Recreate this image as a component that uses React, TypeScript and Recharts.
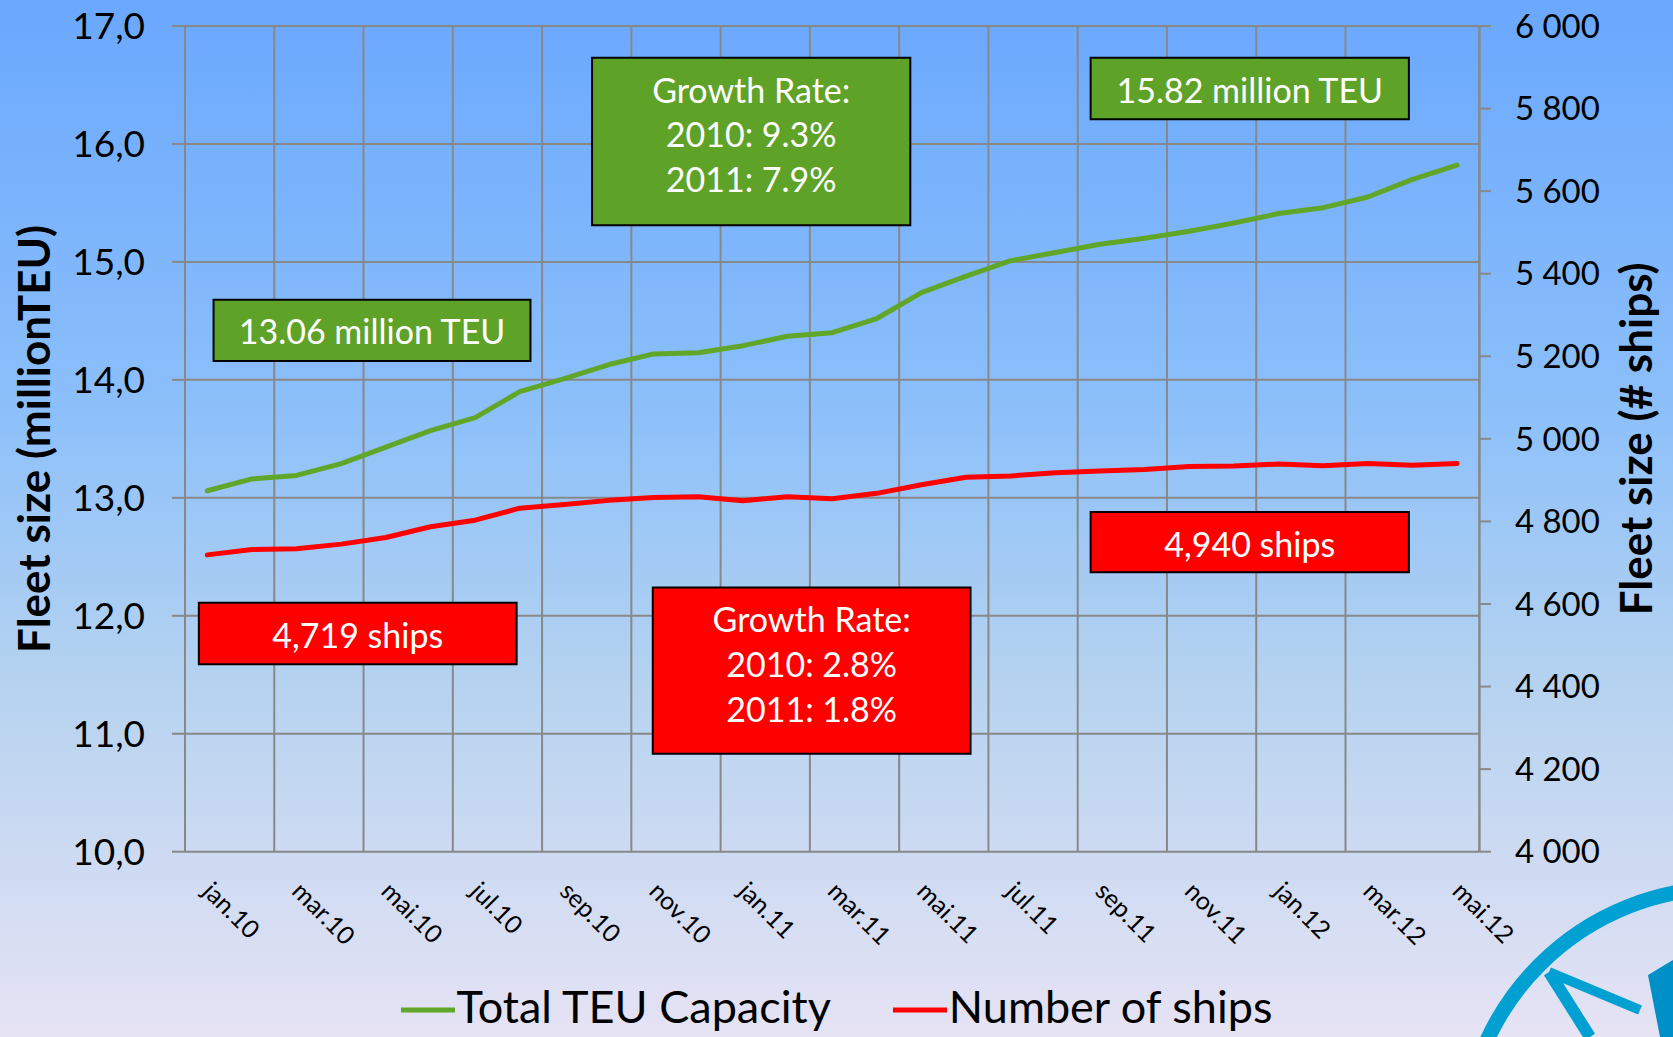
import React from 'react';
import { LineChart, Line, XAxis, YAxis, CartesianGrid, ReferenceArea, Legend } from 'recharts';

const months = [
  'jan.10', 'feb.10', 'mar.10', 'apr.10', 'mai.10', 'jun.10', 'jul.10', 'aug.10', 'sep.10', 'okt.10', 'nov.10', 'des.10',
  'jan.11', 'feb.11', 'mar.11', 'apr.11', 'mai.11', 'jun.11', 'jul.11', 'aug.11', 'sep.11', 'okt.11', 'nov.11', 'des.11',
  'jan.12', 'feb.12', 'mar.12', 'apr.12', 'mai.12',
];

const teuCapacity = [
  13.06, 13.16, 13.19, 13.29, 13.43, 13.57, 13.68, 13.9, 14.01, 14.13,
  14.22, 14.23, 14.29, 14.37, 14.4, 14.52, 14.74, 14.88, 15.01, 15.08,
  15.15, 15.2, 15.26, 15.33, 15.41, 15.46, 15.55, 15.7, 15.82,
];

const shipCount = [
  4719, 4732, 4734, 4745, 4761, 4787, 4803, 4832, 4841, 4851,
  4858, 4860, 4850, 4860, 4855, 4868, 4889, 4907, 4910, 4918,
  4922, 4926, 4933, 4934, 4939, 4935, 4940, 4936, 4940,
];

const leftTicks = [10, 11, 12, 13, 14, 15, 16, 17];
const rightTicks = [4000, 4200, 4400, 4600, 4800, 5000, 5200, 5400, 5600, 5800, 6000];

const seriesNames = ['Total TEU Capacity', 'Number of ships'];
const leftTitle = 'Fleet size (millionTEU)';
const rightTitle = 'Fleet size (# ships)';

const teuNotes = [
  { lines: ['13.06 million TEU'], x1: 0.14, x2: 7.24, y1: 14.16, y2: 14.68 },
  { lines: ['Growth Rate:', '2010: 9.3%', '2011: 7.9%'], x1: 8.62, x2: 15.75, y1: 15.31, y2: 16.73 },
  { lines: ['15.82 million TEU'], x1: 19.79, x2: 26.92, y1: 16.21, y2: 16.73 },
];
const shipNotes = [
  { lines: ['4,940 ships'], x1: 19.79, x2: 26.92, y1: 12.37, y2: 12.88 },
  { lines: ['4,719 ships'], x1: -0.19, x2: 6.93, y1: 11.59, y2: 12.11 },
  { lines: ['Growth Rate:', '2010: 2.8%', '2011: 1.8%'], x1: 9.98, x2: 17.1, y1: 10.83, y2: 12.24 },
];

const GREEN = '#60A629';
const BOX_GREEN = '#5FA228';
const RED = '#FF0000';
const GRID = '#888888';
const FONT = 'Lato, "Open Sans", sans-serif';

const data = months.map((m, i) => ({ idx: i, month: m, teu: teuCapacity[i], ships: shipCount[i] }));
const labelTicks = months.map((_, i) => i).filter((i) => i % 2 === 0);
const gridTicks = labelTicks.filter((i) => i < months.length - 1).map((i) => i - 0.5);

const MonthTick = (props: any) => {
  const { x, y, payload } = props;
  const px = x - 6;
  const py = y + 41;
  return (
    <text x={px} y={py} transform={`rotate(45, ${px}, ${py})`} textAnchor="start" fontSize={25} fontFamily={FONT} fill="#000">
      {months[payload.value]}
    </text>
  );
};

const EmptyTick = () => <g />;

const BoxLabel = (props: any) => {
  const { viewBox, lines } = props;
  if (!viewBox) return null;
  const cx = viewBox.x + viewBox.width / 2;
  return (
    <text textAnchor="middle" fill="#fff" fontSize={34} fontFamily={FONT}>
      {lines.map((l: string, k: number) => (
        <tspan key={k} x={cx} y={viewBox.y + 44.7 * (k + 1)}>{l}</tspan>
      ))}
    </text>
  );
};

const AxisTitle = (props: any) => {
  const { viewBox, text, dx } = props;
  if (!viewBox) return null;
  const x = viewBox.x + dx;
  const y = viewBox.y + viewBox.height / 2;
  return (
    <text x={x} y={y} transform={`rotate(-90, ${x}, ${y})`} textAnchor="middle" fontSize={44} fontWeight="bold" fontFamily={FONT} fill="#000">
      {text}
    </text>
  );
};

const LegendContent = (props: any) => {
  const items = [...(props.payload || [])].sort(
    (a: any, b: any) => seriesNames.indexOf(a.value) - seriesNames.indexOf(b.value)
  );
  return (
    <div style={{ display: 'flex', justifyContent: 'center', alignItems: 'center', fontFamily: FONT, fontSize: 45, lineHeight: 1, color: '#000' }}>
      {items.map((it: any, k: number) => (
        <div key={k} style={{ display: 'flex', alignItems: 'center', marginRight: k < items.length - 1 ? 62 : 0 }}>
          <svg width={54} height={8} style={{ marginTop: 6 }}>
            <line x1={0} x2={54} y1={4} y2={4} stroke={it.color} strokeWidth={5} />
          </svg>
          <span style={{ marginLeft: 2 }}>{it.value}</span>
        </div>
      ))}
    </div>
  );
};

const Compass = () => (
  <svg width={1673} height={1037} style={{ position: 'absolute', left: 0, top: 0, pointerEvents: 'none' }}>
    <circle cx={1725} cy={1150} r={262} fill="none" stroke="#00A0D2" strokeWidth={15} />
    <line x1={1549} y1={972} x2={1590} y2={1037} stroke="#00A0D2" strokeWidth={12} />
    <line x1={1549} y1={972} x2={1640} y2={1010} stroke="#00A0D2" strokeWidth={10} />
    <polygon points="1648,975 1673,960 1673,1037 1660,1037" fill="#0090C8" />
  </svg>
);

export default function App() {
  return (
    <div
      style={{
        position: 'absolute',
        left: 0,
        top: 0,
        width: 1673,
        height: 1037,
        overflow: 'hidden',
        background: 'linear-gradient(to bottom, #6AA8FE 0%, #8DC0FA 40%, #B4D2F0 65%, #E6E3F4 100%)',
      }}
    >
      <LineChart width={1673} height={1037} data={data} margin={{ top: 26, right: 0, bottom: 0, left: 0 }}>
        <CartesianGrid xAxisId="grid" yAxisId="left" stroke={GRID} strokeWidth={2} />
        <XAxis
          xAxisId="grid"
          dataKey="idx"
          type="number"
          domain={[-0.5, months.length - 0.5]}
          ticks={gridTicks}
          tick={<EmptyTick />}
          tickSize={9}
          height={0}
          interval={0}
          axisLine={{ stroke: GRID, strokeWidth: 2 }}
          tickLine={{ stroke: GRID, strokeWidth: 2 }}
          allowDataOverflow
        />
        <XAxis
          xAxisId="main"
          dataKey="idx"
          type="number"
          domain={[-0.5, months.length - 0.5]}
          ticks={labelTicks}
          tick={<MonthTick />}
          tickSize={0}
          tickMargin={0}
          axisLine={false}
          tickLine={false}
          height={185.3}
          interval={0}
          allowDataOverflow
        />
        <YAxis
          yAxisId="left"
          orientation="left"
          domain={[10, 17]}
          ticks={leftTicks}
          width={185}
          tickSize={13}
          tickMargin={27}
          tickFormatter={(v: number) => v.toFixed(1).replace('.', ',')}
          tick={{ fontSize: 37, fill: '#000', fontFamily: FONT }}
          axisLine={{ stroke: GRID, strokeWidth: 2 }}
          tickLine={{ stroke: GRID, strokeWidth: 2 }}
          interval={0}
          allowDataOverflow
          label={<AxisTitle text={leftTitle} dx={50} />}
        />
        <YAxis
          yAxisId="right"
          orientation="right"
          domain={[4000, 6000]}
          ticks={rightTicks}
          width={193.6}
          tickSize={11.5}
          tickMargin={24}
          tickFormatter={(v: number) => String(v).replace(/(\d)(\d{3})$/, '$1\u00a0$2')}
          tick={{ fontSize: 33, fill: '#000', fontFamily: FONT }}
          axisLine={{ stroke: GRID, strokeWidth: 2 }}
          tickLine={{ stroke: GRID, strokeWidth: 2 }}
          interval={0}
          allowDataOverflow
          label={<AxisTitle text={rightTitle} dx={172.6} />}
        />
        {teuNotes.map((n, k) => (
          <ReferenceArea
            key={'t' + k}
            xAxisId="main"
            yAxisId="left"
            x1={n.x1}
            x2={n.x2}
            y1={n.y1}
            y2={n.y2}
            fill={BOX_GREEN}
            fillOpacity={1}
            stroke="#000"
            strokeWidth={2}
            ifOverflow="visible"
            label={<BoxLabel lines={n.lines} />}
          />
        ))}
        {shipNotes.map((n, k) => (
          <ReferenceArea
            key={'s' + k}
            xAxisId="main"
            yAxisId="left"
            x1={n.x1}
            x2={n.x2}
            y1={n.y1}
            y2={n.y2}
            fill={RED}
            fillOpacity={1}
            stroke="#000"
            strokeWidth={2}
            ifOverflow="visible"
            label={<BoxLabel lines={n.lines} />}
          />
        ))}
        <Line
          xAxisId="main"
          yAxisId="left"
          type="linear"
          dataKey="teu"
          name={seriesNames[0]}
          stroke={GREEN}
          strokeWidth={5}
          strokeLinecap="round"
          strokeLinejoin="round"
          dot={false}
          activeDot={false}
          isAnimationActive={false}
        />
        <Line
          xAxisId="main"
          yAxisId="right"
          type="linear"
          dataKey="ships"
          name={seriesNames[1]}
          stroke={RED}
          strokeWidth={5}
          strokeLinecap="round"
          strokeLinejoin="round"
          dot={false}
          activeDot={false}
          isAnimationActive={false}
        />
        <Legend
          layout="horizontal"
          verticalAlign="middle"
          align="center"
          wrapperStyle={{ top: 984, left: 0, width: 1673, height: 50 }}
          content={<LegendContent />}
        />
      </LineChart>
      <Compass />
    </div>
  );
}
